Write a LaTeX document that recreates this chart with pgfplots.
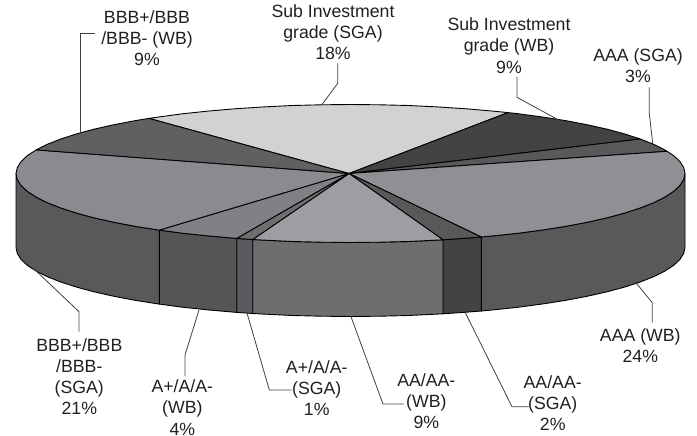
\documentclass[border=0pt]{standalone}
\usepackage{fontspec}
\setmainfont{Liberation Sans}
\usepackage{pgfplots}
\pgfplotsset{compat=1.18}
\definecolor{subsga}{HTML}{D1D2D4}
\definecolor{subwb}{HTML}{434344}
\definecolor{aaasga}{HTML}{58595B}
\definecolor{aaawb}{HTML}{8F9093}
\definecolor{aasga}{HTML}{58595B}
\definecolor{aawb}{HTML}{9D9EA1}
\definecolor{asga}{HTML}{6D6E70}
\definecolor{awb}{HTML}{808184}
\definecolor{bbbsga}{HTML}{8A8B8E}
\definecolor{bbbwb}{HTML}{5F6062}
\definecolor{sideaaawb}{HTML}{58595B}
\definecolor{sideaasga}{HTML}{434344}
\definecolor{sideaawb}{HTML}{6D6E70}
\definecolor{sideasga}{HTML}{5A5B5F}
\definecolor{sideawb}{HTML}{555557}
\definecolor{sidebbbsga}{HTML}{58595B}
\definecolor{labeltext}{HTML}{231F20}
\tikzset{
  slice/.style={draw=black, line width=0.9pt, fill=#1},
  leader/.style={draw=black!75, line width=0.8pt},
  lbl/.style={align=center, inner sep=0pt, text=labeltext,
    font=\fontsize{17.7}{21.2}\selectfont},
}
\begin{document}
\begin{tikzpicture}[x=1pt,y=1pt]
\begin{axis}[
  at={(0,0)}, anchor=south west,
  scale only axis, width=697pt, height=436pt,
  xmin=0, xmax=697, ymin=0, ymax=436, y dir=reverse,
  hide axis, clip=false, no markers,
  every axis plot/.append style={line join=round},
]
% Rim of the disc, front side faces
\addplot[slice=sideaaawb] coordinates {(685,173.5)(683.7,179.5)(679.9,185.5)(673.6,191.4)(664.8,197.1)(653.7,202.7)(640.2,208)(624.5,213.1)(606.7,217.9)(587,222.3)(565.5,226.4)(542.4,230)(517.8,233.3)(491.9,236)(481.3,237)
 (481.3,311)(491.9,310)(517.8,307.3)(542.4,304)(565.5,300.4)(587,296.3)(606.7,291.9)(624.5,287.1)(640.2,282)(653.7,276.7)(664.8,271.1)(673.6,265.4)(679.9,259.5)(683.7,253.5)(685,247.5)} -- cycle;
\addplot[slice=sideaasga] coordinates {(481.3,237)(464.9,238.3)(443,239.8)(443,313.8)(464.9,312.3)(481.3,311)} -- cycle;
\addplot[slice=sideaawb] coordinates {(443,239.8)(437.1,240.1)(408.6,241.5)(379.7,242.2)(350.5,242.5)(321.3,242.2)(292.4,241.5)(263.9,240.1)(252.7,239.5)
 (252.7,313.5)(263.9,314.1)(292.4,315.5)(321.3,316.2)(350.5,316.5)(379.7,316.2)(408.6,315.5)(437.1,314.1)(443,313.8)} -- cycle;
\addplot[slice=sideasga] coordinates {(252.7,239.5)(236.7,238.4)(236.7,312.4)(252.7,313.5)} -- cycle;
\addplot[slice=sideawb] coordinates {(236.7,238.4)(209.1,236)(183.2,233.3)(159.3,230.1)(159.3,304.1)(183.2,307.3)(209.1,310)(236.7,312.4)} -- cycle;
\addplot[slice=sidebbbsga] coordinates {(159.3,230.1)(158.6,230)(135.5,226.4)(114,222.3)(94.3,217.9)(76.5,213.1)(60.8,208)(47.3,202.7)(36.2,197.1)(27.4,191.4)(21.1,185.5)(17.3,179.5)(16,173.5)
 (16,247.5)(17.3,253.5)(21.1,259.5)(27.4,265.4)(36.2,271.1)(47.3,276.7)(60.8,282)(76.5,287.1)(94.3,291.9)(114,296.3)(135.5,300.4)(158.6,304)(159.3,304.1)} -- cycle;
% Top faces of the slices
\addplot[slice=subsga] coordinates {(349,173.5)(149,118.4)(158.6,117)(183.2,113.7)(209.1,111)(236.1,108.7)(263.9,106.9)(292.4,105.5)(321.3,104.8)(350.5,104.5)(379.7,104.8)(408.6,105.5)(437.1,106.9)(464.9,108.7)(491.9,111)(508,112.6)} -- cycle;
\addplot[slice=subwb] coordinates {(349,173.5)(508,112.6)(517.8,113.7)(542.4,117)(565.5,120.6)(587,124.7)(606.7,129.1)(624.5,133.9)(640.2,139)} -- cycle;
\addplot[slice=aaasga] coordinates {(349,173.5)(640.2,139)(653.7,144.3)(664.8,149.9)(667,151.3)} -- cycle;
\addplot[slice=aaawb] coordinates {(349,173.5)(667,151.3)(673.6,155.6)(679.9,161.5)(683.7,167.5)(685,173.5)(683.7,179.5)(679.9,185.5)(673.6,191.4)(664.8,197.1)(653.7,202.7)(640.2,208)(624.5,213.1)(606.7,217.9)(587,222.3)(565.5,226.4)(542.4,230)(517.8,233.3)(491.9,236)(481.3,237)} -- cycle;
\addplot[slice=aasga] coordinates {(349,173.5)(481.3,237)(464.9,238.3)(443,239.8)} -- cycle;
\addplot[slice=aawb] coordinates {(349,173.5)(443,239.8)(437.1,240.1)(408.6,241.5)(379.7,242.2)(350.5,242.5)(321.3,242.2)(292.4,241.5)(263.9,240.1)(252.7,239.5)} -- cycle;
\addplot[slice=asga] coordinates {(349,173.5)(252.7,239.5)(236.7,238.4)} -- cycle;
\addplot[slice=awb] coordinates {(349,173.5)(236.7,238.4)(209.1,236)(183.2,233.3)(159.3,230.1)} -- cycle;
\addplot[slice=bbbsga] coordinates {(349,173.5)(159.3,230.1)(158.6,230)(135.5,226.4)(114,222.3)(94.3,217.9)(76.5,213.1)(60.8,208)(47.3,202.7)(36.2,197.1)(27.4,191.4)(21.1,185.5)(17.3,179.5)(16,173.5)(17.3,167.5)(21.1,161.5)(27.4,155.6)(36.2,149.9)} -- cycle;
\addplot[slice=bbbwb] coordinates {(349,173.5)(36.2,149.9)(47.3,144.3)(60.8,139)(76.5,133.9)(94.3,129.1)(114,124.7)(135.5,120.6)(149,118.4)} -- cycle;
% Leader lines from the labels to the disc
\addplot[leader] coordinates {(337.7,63.3)(337.7,83.3)(321.7,105)};
\addplot[leader] coordinates {(95,33.3)(80.7,33.3)(80.7,132)};
\addplot[leader] coordinates {(517,76.7)(517,97.3)(561.7,121.7)};
\addplot[leader] coordinates {(649.3,87.3)(649.3,113.3)(652.7,143.3)};
\addplot[leader] coordinates {(652.3,322.7)(652.3,302.7)(637,284)};
\addplot[leader] coordinates {(528.7,406.7)(512,406.7)(465.3,312.7)};
\addplot[leader] coordinates {(403.7,404)(383,404)(351,316.7)};
\addplot[leader] coordinates {(291.7,390)(269.3,390)(247.3,314)};
\addplot[leader] coordinates {(185,376)(185,355)(199,310)};
\addplot[leader] coordinates {(79,331.7)(79,311.7)(33,268)};
% Labels
\node[lbl] at (axis cs:333,32) {Sub Investment\\grade (SGA)\\18\%};
\node[lbl] at (axis cs:147,38) {BBB+/BBB\\/BBB- (WB)\\9\%};
\node[lbl] at (axis cs:509,45.5) {Sub Investment\\grade (WB)\\9\%};
\node[lbl] at (axis cs:638,66) {AAA (SGA)\\3\%};
\node[lbl] at (axis cs:640.3,346) {AAA (WB)\\24\%};
\node[lbl] at (axis cs:552.7,403) {AA/AA-\\(SGA)\\2\%};
\node[lbl] at (axis cs:426.3,401) {AA/AA-\\(WB)\\9\%};
\node[lbl] at (axis cs:316.7,388) {A+/A/A-\\(SGA)\\1\%};
\node[lbl] at (axis cs:182.3,407.5) {A+/A/A-\\(WB)\\4\%};
\node[lbl] at (axis cs:79.3,376.7) {BBB+/BBB\\/BBB-\\(SGA)\\21\%};
\end{axis}
\path[use as bounding box] (0,0) rectangle (697,436);
\end{tikzpicture}
\end{document}
